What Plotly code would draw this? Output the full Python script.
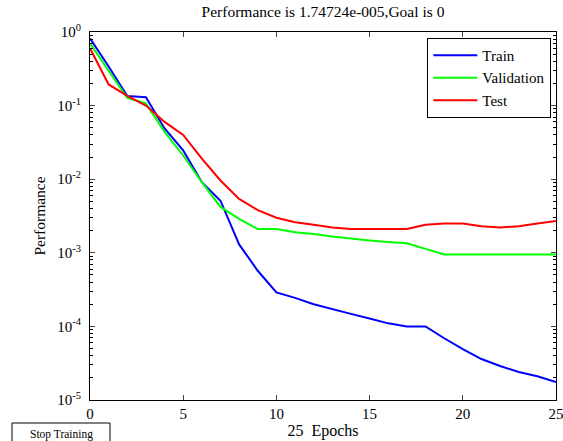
import plotly.graph_objects as go

epochs = list(range(26))
train = [0.82, 0.34, 0.135, 0.13, 0.049, 0.0246, 0.0091, 0.0051, 0.0013, 0.00057,
         0.00029, 0.000244, 0.0002, 0.000174, 0.000148, 0.000128, 0.00011, 0.0001,
         0.0001, 6.9e-5, 4.9e-5, 3.6e-5, 2.9e-5, 2.4e-5, 2.1e-5, 1.747e-5]
validation = [0.70, 0.30, 0.127, 0.107, 0.044, 0.021, 0.0091, 0.0042, 0.0029, 0.0021,
              0.0021, 0.0019, 0.0018, 0.00166, 0.00155, 0.00147, 0.0014, 0.00135,
              0.00113, 0.00095, 0.00095, 0.00095, 0.00095, 0.00095, 0.00095, 0.00095]
test = [0.60, 0.194, 0.136, 0.10, 0.06, 0.04, 0.019, 0.0096, 0.0054, 0.0038,
        0.0030, 0.0026, 0.0024, 0.0022, 0.0021, 0.0021, 0.0021, 0.0021,
        0.0024, 0.0025, 0.0025, 0.0023, 0.0022, 0.0023, 0.0025, 0.0027]

series_names = ["Train", "Validation", "Test"]
series_colors = ["#0000ff", "#00ff00", "#ff0000"]

y_tickvals = [1e-5, 1e-4, 1e-3, 1e-2, 1e-1, 1]
y_ticktext = ["10<sup>-5</sup>", "10<sup>-4</sup>", "10<sup>-3</sup>",
              "10<sup>-2</sup>", "10<sup>-1</sup>", "10<sup>0</sup>"]
x_tickvals = [0, 5, 10, 15, 20, 25]

title_text = "Performance is 1.74724e-005,Goal is 0"
xlabel = "25  Epochs"
ylabel = "Performance"
button_text = "Stop Training"

minor_vals = [k * 10.0 ** e for e in range(-5, 0) for k in range(2, 10)]

FONT = "Liberation Serif"

fig = go.Figure()
for name, ys, col in zip(series_names, [train, validation, test], series_colors):
    fig.add_trace(go.Scatter(x=epochs, y=ys, mode="lines", name=name,
                             line=dict(color=col, width=2)))

fig.update_layout(
    width=563, height=441,
    margin=dict(l=90, r=7, t=32, b=41, autoexpand=False),
    paper_bgcolor="white", plot_bgcolor="white",
    font=dict(family=FONT, size=15, color="black"),
    title=dict(text=title_text, x=0.5, xref="paper", xanchor="center",
               y=1 - 12 / 441, yanchor="middle", font=dict(family=FONT, size=15.5)),
    showlegend=True,
    legend=dict(x=0.99, y=0.984, xanchor="right", yanchor="top",
                bgcolor="white", bordercolor="black", borderwidth=1,
                font=dict(family=FONT, size=15), tracegroupgap=0, itemwidth=44),
)

fig.update_xaxes(range=[0, 25], tickvals=x_tickvals, ticks="inside", ticklen=5,
                 showgrid=False, zeroline=False, showline=True, linecolor="black",
                 linewidth=1, mirror="allticks", tickfont=dict(family=FONT, size=15),
                 ticklabeloverflow="allow",
                 title=dict(text=xlabel, standoff=3, font=dict(family=FONT, size=16)))
fig.update_yaxes(type="log", range=[-5, 0], tickvals=y_tickvals, ticktext=y_ticktext,
                 ticks="inside", ticklen=5, showgrid=False, zeroline=False,
                 showline=True, linecolor="black", linewidth=1, mirror="allticks",
                 tickfont=dict(family=FONT, size=15), ticklabelstandoff=5,
                 minor=dict(tickvals=minor_vals, ticks="inside", ticklen=3,
                            showgrid=False, tickcolor="black"),
                 title=dict(text=ylabel, standoff=7, font=dict(family=FONT, size=15.5)))

# "Stop Training" button
fig.add_shape(type="rect", xref="paper", yref="paper",
              x0=(12 - 90) / 466, x1=(110 - 90) / 466,
              y0=(400 - 445) / 368, y1=(400 - 423) / 368,
              line=dict(color="black", width=1), fillcolor="white")
fig.add_annotation(text=button_text, xref="paper", yref="paper",
                   x=(61 - 90) / 466, y=(400 - 434) / 368, showarrow=False,
                   font=dict(size=11.5, family=FONT), xanchor="center", yanchor="middle")

fig.write_html("out.html", config={"displayModeBar": False},
               post_script="document.body.style.margin='0';document.body.style.overflow='hidden';")
